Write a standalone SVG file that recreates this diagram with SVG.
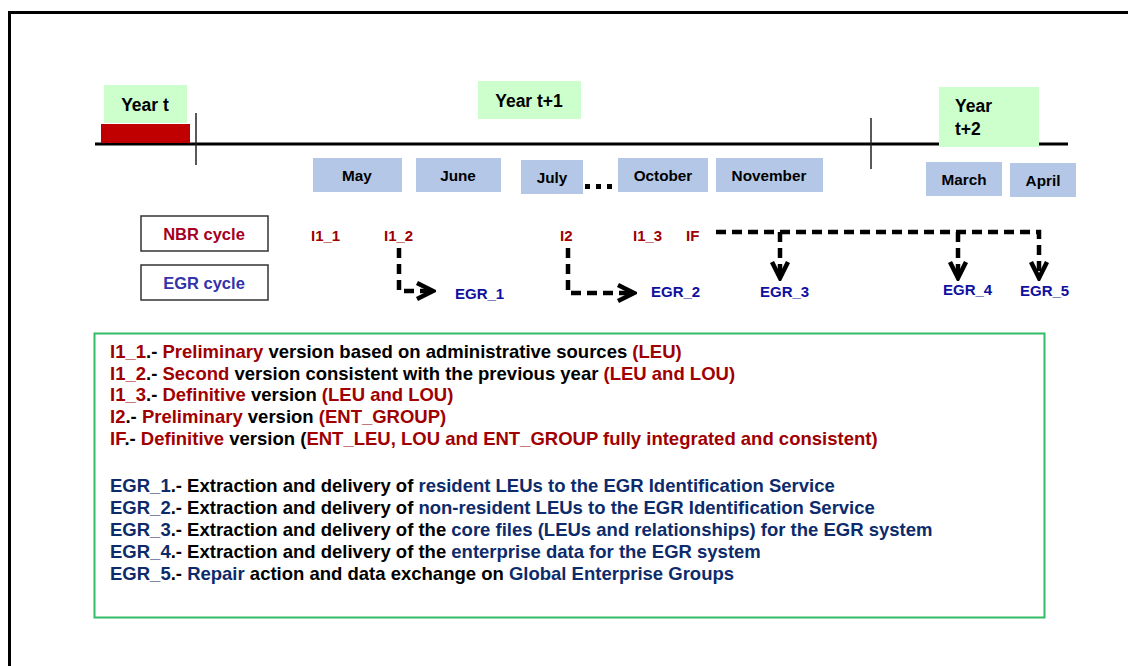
<svg xmlns="http://www.w3.org/2000/svg" width="1128" height="666" viewBox="0 0 1128 666">
  <style>
    text { font-family: "Liberation Sans", Arial, sans-serif; font-weight: bold; }
    .year { fill: #ccffcc; }
    .month { fill: #b4c7e7; }
    .yt { font-size: 17.5px; fill: #000; }
    .mt { font-size: 15.3px; fill: #000; text-anchor: middle; }
    .cyc { fill: #fff; stroke: #333; stroke-width: 1.5; }
    .nbr { fill: #a00000; font-size: 15px; }
    .egr { fill: #1010a0; font-size: 15px; }
    .leg { font-size: 18.5px; fill: #000; }
    .r { fill: #a00000; }
    .b { fill: #0d2b6b; }
    .flow { fill: none; stroke: #000; stroke-width: 4.5; stroke-dasharray: 10 6; }
  </style>
  <defs>
    <marker id="chev" viewBox="0 0 22 22" refX="19" refY="11" markerWidth="22" markerHeight="22" markerUnits="userSpaceOnUse" orient="auto">
      <path d="M3,3 L19,11 L3,19" fill="none" stroke="#000" stroke-width="4.5" stroke-dasharray="none" stroke-linejoin="miter"/>
    </marker>
  </defs>
  <rect width="1128" height="666" fill="#fff"/>
  <!-- page frame -->
  <rect x="9.5" y="12.5" width="1200" height="700" fill="none" stroke="#000" stroke-width="3"/>

  <!-- timeline -->
  <g id="timeline">
    <line x1="95" y1="144" x2="1068" y2="144" stroke="#000" stroke-width="3"/>
    <line x1="196" y1="113" x2="196" y2="165" stroke="#222" stroke-width="1.5"/>
    <line x1="871" y1="118" x2="871" y2="169" stroke="#222" stroke-width="1.5"/>
  </g>

  <g id="year-t">
    <rect class="year" x="104" y="85" width="83" height="38"/>
    <rect x="101" y="124" width="89" height="19" fill="#c00000"/>
    <text class="yt" x="145" y="111" text-anchor="middle">Year t</text>
  </g>
  <g id="year-t1">
    <rect class="year" x="478" y="81" width="103" height="38"/>
    <text class="yt" x="529" y="107" text-anchor="middle">Year t+1</text>
  </g>
  <g id="year-t2">
    <rect class="year" x="939" y="87" width="100" height="60"/>
    <text class="yt" x="955" y="112">Year</text>
    <text class="yt" x="955" y="135">t+2</text>
  </g>

  <!-- months -->
  <g id="may"><rect class="month" x="313" y="158" width="89" height="34"/><text class="mt" x="357" y="181">May</text></g>
  <g id="june"><rect class="month" x="416" y="158" width="85" height="34"/><text class="mt" x="458" y="181">June</text></g>
  <g id="july"><rect class="month" x="521" y="160" width="62" height="34"/><text class="mt" x="552" y="183">July</text></g>
  <g id="ellipsis">
    <rect x="585" y="184" width="5" height="5" fill="#000"/>
    <rect x="596" y="184" width="5" height="5" fill="#000"/>
    <rect x="607" y="184" width="5" height="5" fill="#000"/>
  </g>
  <g id="october"><rect class="month" x="618" y="158" width="90" height="34"/><text class="mt" x="663" y="181">October</text></g>
  <g id="november"><rect class="month" x="716" y="158" width="107" height="34"/><text class="mt" x="769" y="181">November</text></g>
  <g id="march"><rect class="month" x="926" y="162" width="76" height="34"/><text class="mt" x="964" y="185">March</text></g>
  <g id="april"><rect class="month" x="1010" y="163" width="66" height="34"/><text class="mt" x="1043" y="186">April</text></g>

  <!-- cycle boxes -->
  <g id="nbr-cycle"><rect class="cyc" x="141" y="216" width="127" height="35"/><text x="204" y="240" text-anchor="middle" font-size="16.5" fill="#a50021">NBR cycle</text></g>
  <g id="egr-cycle"><rect class="cyc" x="141" y="265" width="127" height="35"/><text x="204" y="289" text-anchor="middle" font-size="16.5" fill="#3333aa">EGR cycle</text></g>

  <!-- NBR milestones -->
  <g id="nbr-labels">
    <text class="nbr" x="311" y="241">I1_1</text>
    <text class="nbr" x="384" y="241">I1_2</text>
    <text class="nbr" x="560" y="241">I2</text>
    <text class="nbr" x="633" y="241">I1_3</text>
    <text class="nbr" x="686" y="241">IF</text>
  </g>

  <!-- EGR deliveries -->
  <g id="egr-labels">
    <text class="egr" x="455" y="299">EGR_1</text>
    <text class="egr" x="651" y="297">EGR_2</text>
    <text class="egr" x="760" y="297">EGR_3</text>
    <text class="egr" x="943" y="295">EGR_4</text>
    <text class="egr" x="1020" y="296">EGR_5</text>
  </g>

  <!-- connectors -->
  <g id="connectors">
    <path class="flow" d="M399,248 V291 H433" marker-end="url(#chev)"/>
    <path class="flow" d="M568,248 V293 H634" marker-end="url(#chev)"/>
    <path class="flow" d="M716,232 H1039 V278" marker-end="url(#chev)"/>
    <path class="flow" d="M780,232 V278" marker-end="url(#chev)"/>
    <path class="flow" d="M958,232 V278" marker-end="url(#chev)"/>
  </g>

  <!-- legend -->
  <g id="legend">
    <rect x="94.5" y="333.5" width="950" height="284" fill="none" stroke="#33bb66" stroke-width="2"/>
    <text class="leg" x="110" y="358"><tspan class="r">I1_1</tspan>.- <tspan class="r">Preliminary</tspan> version based on administrative sources <tspan class="r">(LEU)</tspan></text>
    <text class="leg" x="110" y="380"><tspan class="r">I1_2</tspan>.- <tspan class="r">Second</tspan> version consistent with the previous year <tspan class="r">(LEU and LOU)</tspan></text>
    <text class="leg" x="110" y="401"><tspan class="r">I1_3</tspan>.- <tspan class="r">Definitive</tspan> version <tspan class="r">(LEU and LOU)</tspan></text>
    <text class="leg" x="110" y="423"><tspan class="r">I2</tspan>.- <tspan class="r">Preliminary</tspan> version <tspan class="r">(ENT_GROUP)</tspan></text>
    <text class="leg" x="110" y="445"><tspan class="r">IF</tspan>.- <tspan class="r">Definitive</tspan> version (<tspan class="r">ENT_LEU, LOU and ENT_GROUP fully integrated and consistent)</tspan></text>
    <text class="leg" x="110" y="492"><tspan class="b">EGR_1</tspan>.- Extraction and delivery of <tspan class="b">resident LEUs to the EGR Identification Service</tspan></text>
    <text class="leg" x="110" y="514"><tspan class="b">EGR_2</tspan>.- Extraction and delivery of <tspan class="b">non-resident LEUs to the EGR Identification Service</tspan></text>
    <text class="leg" x="110" y="536"><tspan class="b">EGR_3</tspan>.- Extraction and delivery of the <tspan class="b">core files (LEUs and relationships) for the EGR system</tspan></text>
    <text class="leg" x="110" y="558"><tspan class="b">EGR_4</tspan>.- Extraction and delivery of the <tspan class="b">enterprise data for the EGR system</tspan></text>
    <text class="leg" x="110" y="580"><tspan class="b">EGR_5</tspan>.- <tspan class="b">Repair</tspan> action and data exchange on <tspan class="b">Global Enterprise Groups</tspan></text>
  </g>
</svg>
